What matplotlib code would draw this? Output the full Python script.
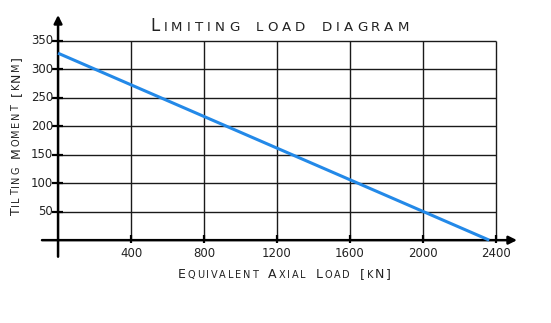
import matplotlib
matplotlib.use("Agg")
import matplotlib.pyplot as plt

# straight limiting line
load = [0, 2363]
moment = [328, 0]
x_ticks = [400, 800, 1200, 1600, 2000, 2400]
y_ticks = [50, 100, 150, 200, 250, 300, 350]

title = "Limiting load diagram"
x_title = "Equivalent Axial Load [kN]"
y_title = "Tilting Moment [kNm]"

plt.rcParams['font.family'] = ['DejaVu Sans']
W, H = 551, 323
fig = plt.figure(figsize=(W / 100, H / 100), dpi=100)
ax = fig.add_axes([42 / W, 1 - 256.7 / H, 475 / W, 241.7 / H])
ax.set_xlim(-88, 2515)
ax.set_ylim(-29, 395)
ax.axis('off')


def smallcaps(x, y, s, big, small, span, rotation=0, color='#222222'):
    # fake wide small caps, spread letter by letter over `span` pixels
    # (x, y) is the centre of the baseline in pixels from the top left
    r = fig.canvas.get_renderer()
    chars = []
    for ch in s:
        size = small if ch.islower() else big
        chars.append((ch.upper(), size))
    widths = []
    for ch, size in chars:
        if ch == " ":
            widths.append(size * 0.7)
            continue
        t = fig.text(0, 0, ch, fontsize=size)
        widths.append(t.get_window_extent(r).width)
        t.remove()
    gap = (span - sum(widths)) / (len(chars) - 1)
    pos = -span / 2
    for (ch, size), w in zip(chars, widths):
        if ch != " ":
            if rotation == 0:
                fig.text((x + pos) / W, 1 - y / H, ch, fontsize=size, color=color,
                         ha='left', va='baseline')
            else:
                fig.text(x / W, 1 - (y - pos) / H, ch, fontsize=size, color=color,
                         rotation=90, rotation_mode='anchor',
                         ha='left', va='baseline')
        pos += w + gap


# grid and tick marks
ax.hlines(y_ticks, 0, 2400, lw=1, color='#1a1a1a')
ax.vlines(x_ticks, 0, 350, lw=1, color='#1a1a1a')
ax.hlines(y_ticks, -33, 27, lw=1.6, color='black')
ax.vlines(x_ticks, -5, 9, lw=1.6, color='black')

# axes with arrows
arrow = dict(arrowstyle='-|>', lw=1.8, color='black', mutation_scale=12,
             shrinkA=0, shrinkB=0)
ax.annotate('', xy=(2515, 0), xytext=(-88, 0), arrowprops=arrow)
ax.annotate('', xy=(0, 395), xytext=(0, -29), arrowprops=arrow)

ax.plot(load, moment, color='#2389e8', lw=2.2, solid_capstyle='butt', zorder=3)

for v in y_ticks:
    ax.text(-27, v, str(v), ha='right', va='center', fontsize=8.5, color='#222222')
for v in x_ticks:
    ax.text(v, -24, str(v), ha='center', va='center', fontsize=8.5, color='#222222')

smallcaps(279.5, 31.3, title, 12, 9.6, 259)
smallcaps(284.5, 278.3, x_title, 9, 7, 213)
smallcaps(19.5, 135.5, y_title, 9, 7, 159, rotation=90)

fig.savefig("out.png", dpi=100)
